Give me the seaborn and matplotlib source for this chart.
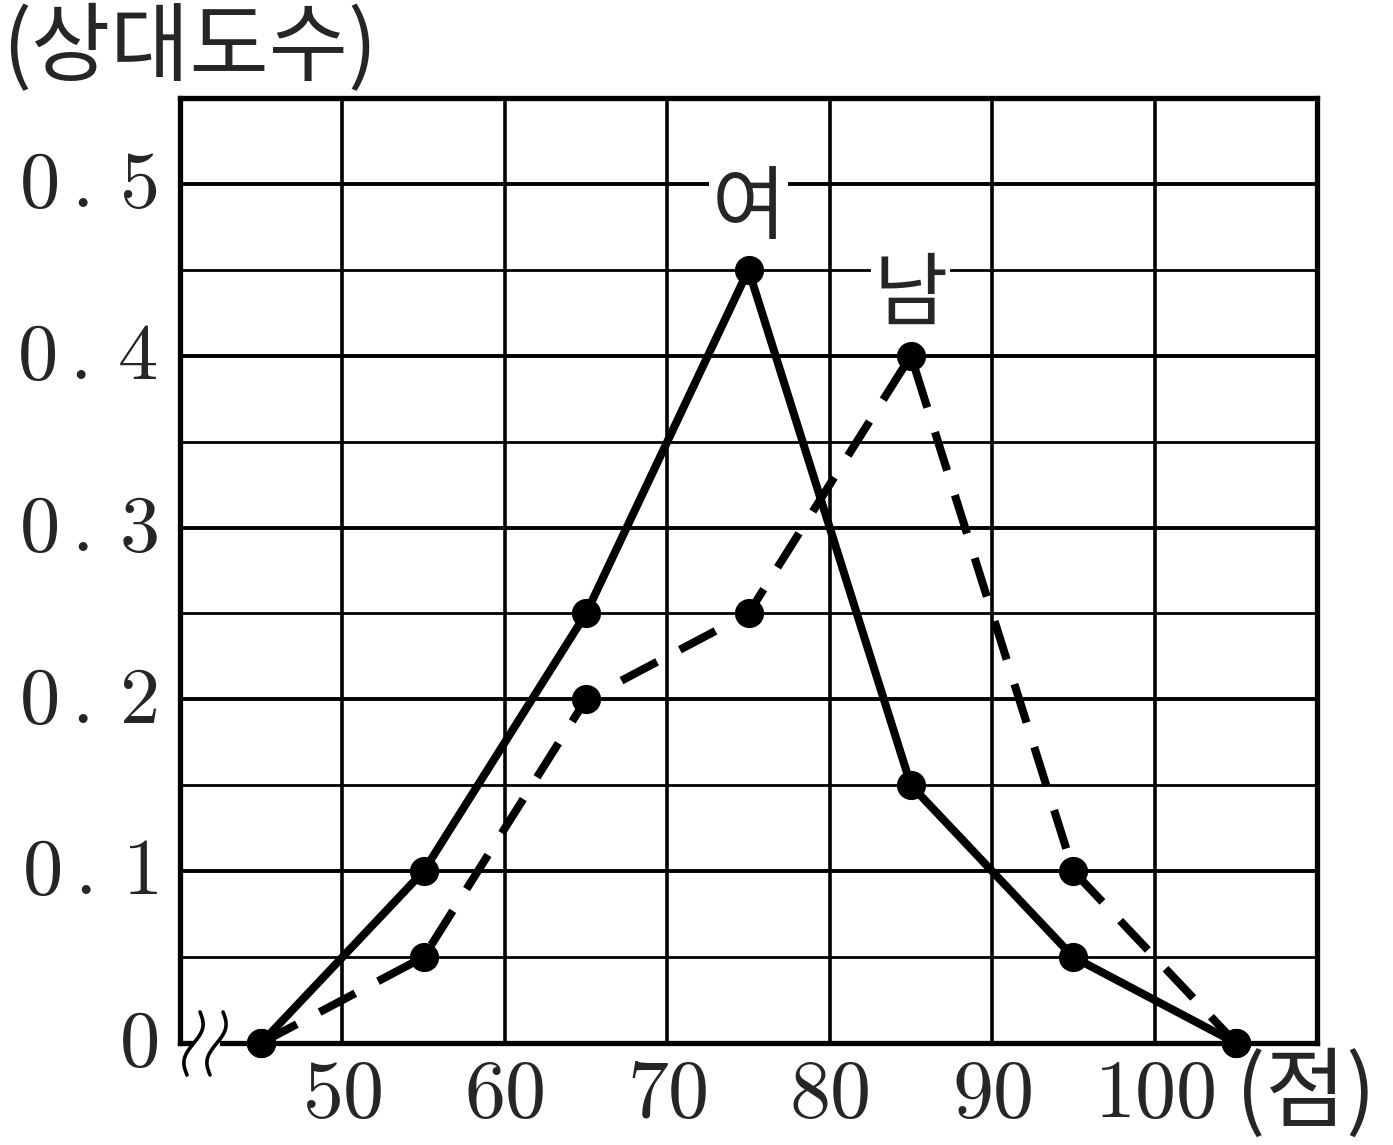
import numpy as np
import pandas as pd
import matplotlib
matplotlib.use("Agg")
import matplotlib.pyplot as plt
import seaborn as sns

scores = [45, 55, 65, 75, 85, 95, 105]
female = [0, 0.1, 0.25, 0.45, 0.15, 0.05, 0]
male = [0, 0.05, 0.2, 0.25, 0.4, 0.1, 0]
xticks = [50, 60, 70, 80, 90, 100]
yticks = [0, 0.1, 0.2, 0.3, 0.4, 0.5]
ytick_labels = [r"$0$", r"$0\,.\,1$", r"$0\,.\,2$", r"$0\,.\,3$", r"$0\,.\,4$", r"$0\,.\,5$"]
xtick_labels = [r"$50$", r"$60$", r"$70$", r"$80$", r"$90$", r"$100$"]

sns.set_style("white")
plt.rcParams['font.family'] = ['Noto Sans CJK KR', 'DejaVu Sans']
plt.rcParams['mathtext.fontset'] = 'cm'

fig = plt.figure(figsize=(13.93, 11.45), dpi=100)
ax = fig.add_axes([180/1393, 1 - 1043/1145, (1317-180)/1393, (1043-98)/1145])
ax.set_xlim(40, 110)
ax.set_ylim(0, 0.55)

# grid
for x in range(50, 110, 10):
    ax.axvline(x, color='black', lw=2.6, zorder=1)
for i, y in enumerate(np.arange(0.05, 0.55, 0.05)):
    ax.axhline(y, color='black', lw=2.8 if i % 2 == 1 else 2.0, zorder=1)

df = pd.DataFrame({"score": scores, "f": female, "m": male})
sns.lineplot(data=df, x="score", y="f", ax=ax, color='black', lw=5.8,
             marker='o', markersize=21, markeredgewidth=0, clip_on=False, zorder=5)
sns.lineplot(data=df, x="score", y="m", ax=ax, color='black', lw=5.8,
             marker='o', markersize=21, markeredgewidth=0, clip_on=False, zorder=5,
             dashes=False, linestyle=(0, (5, 3.2)))

for s in ax.spines.values():
    s.set_color('black')
    s.set_linewidth(3.8)

ax.set_xticks(xticks)
ax.set_xticklabels(xtick_labels, fontsize=59)
ax.set_yticks(yticks)
ax.set_yticklabels(ytick_labels, fontsize=58)
ax.tick_params(axis='both', length=0)
ax.tick_params(axis='x', pad=6)
ax.tick_params(axis='y', pad=16)
ax.set_xlabel("")
ax.set_ylabel("")
for lbl in ax.get_yticklabels():
    lbl.set_verticalalignment('center')

# labels
ax.text(75, 0.485, "여", fontsize=58, ha='center', va='center', zorder=3,
        bbox=dict(facecolor='white', edgecolor='none', pad=2))
ax.text(85, 0.435, "남", fontsize=58, ha='center', va='center', zorder=3,
        bbox=dict(facecolor='white', edgecolor='none', pad=2))

fig.text(2/1393, 1 - 50/1145, "(상대도수)", fontsize=62, ha='left', va='center')
fig.text(1236/1393, 1 - 1095/1145, "(점)", fontsize=63, ha='left', va='center')

# axis break symbol
tr = ax.transAxes
w = 1137.0
h = 945.0
ax.add_patch(plt.Rectangle(((194-180)/w, -10/h), 26/w, 20/h, transform=tr,
                           facecolor='white', edgecolor='none', clip_on=False, zorder=6))
t = np.linspace(0, 1, 60)
for x0 in [200, 223]:
    xs = (x0 - 13*t + 6*np.sin(2*np.pi*t) - 180) / w
    ys = (1043 - (1012 + 63*t)) / h
    ax.plot(xs, ys, transform=tr, color='black', lw=2.6, clip_on=False, zorder=7)

fig.savefig("out.png", dpi=100)
